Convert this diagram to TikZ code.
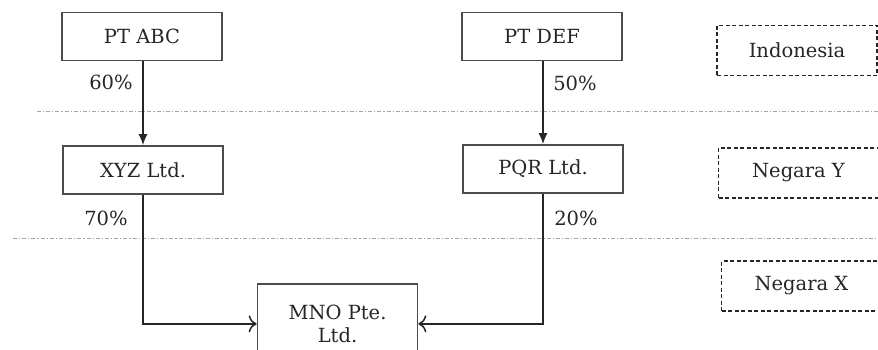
\documentclass[tikz,border=0pt]{standalone}
\usepackage{fontspec}
\setmainfont{DejaVu Serif}
\usetikzlibrary{arrows.meta}
\begin{document}
\begin{tikzpicture}[x=1pt,y=-1pt,
  ent/.style={draw=black!70, line width=1.7pt, minimum width=160pt, minimum height=48pt,
    font=\fontsize{19.5}{23}\selectfont, text=black!85, inner sep=0pt, align=center},
  ctry/.style={draw=black!85, dash pattern=on 4pt off 2.5pt, line width=1.2pt,
    minimum width=160pt, minimum height=50pt, font=\fontsize{19.5}{23}\selectfont, text=black!85, inner sep=0pt},
  lbl/.style={font=\fontsize{19.5}{23}\selectfont, text=black!85, inner sep=0pt},
  sep/.style={draw=black!35, dash pattern=on 4pt off 2pt on 1.2pt off 2pt, line width=1pt},
  solidarr/.style={draw=black!85, line width=1.5pt, -{Latex[length=11pt,width=9pt]}},
  openarr/.style={draw=black!85, line width=1.5pt, -{To[length=8pt,width=17pt]}}]
\useasboundingbox (0,0) rectangle (878,350);
\fill[white] (0,0) rectangle (878,350);

% separators
\coordinate (s1a) at (37,112);
\coordinate (s1b) at (878,112);
\coordinate (s2a) at (13,238);
\coordinate (s2b) at (878,238);
\draw[sep] (s1a) -- (s1b);
\draw[sep] (s2a) -- (s2b);

% entities
\node[ent] (abc) at (142,36.5) {PT ABC};
\node[ent] (xyz) at (143,170) {XYZ Ltd.};
\node[ent] (def) at (542,36.5) {PT DEF};
\node[ent] (pqr) at (543,169) {PQR Ltd.};
\node[ent, anchor=north, minimum height=80pt] (mno) at (337.5,283) {MNO Pte.\\Ltd.};

% countries
\node[ctry] (ind) at (797,50.5) {Indonesia};
\node[ctry] (ny) at (798.5,173) {Negara Y};
\node[ctry] (nx) at (801.5,286) {Negara X};

% connectors
\draw[solidarr] (abc.south -| xyz) -- (xyz.north);
\draw[solidarr] (def.south -| pqr) -- (pqr.north);
\draw[openarr] (xyz.south) |- (mno.west);
\draw[openarr] (pqr.south) |- (mno.east);

% labels
\node[lbl] (l60) at (111,82) {60\%};
\node[lbl] (l50) at (575,83) {50\%};
\node[lbl] (l70) at (106,218) {70\%};
\node[lbl] (l20) at (576,218) {20\%};
\end{tikzpicture}
\end{document}
